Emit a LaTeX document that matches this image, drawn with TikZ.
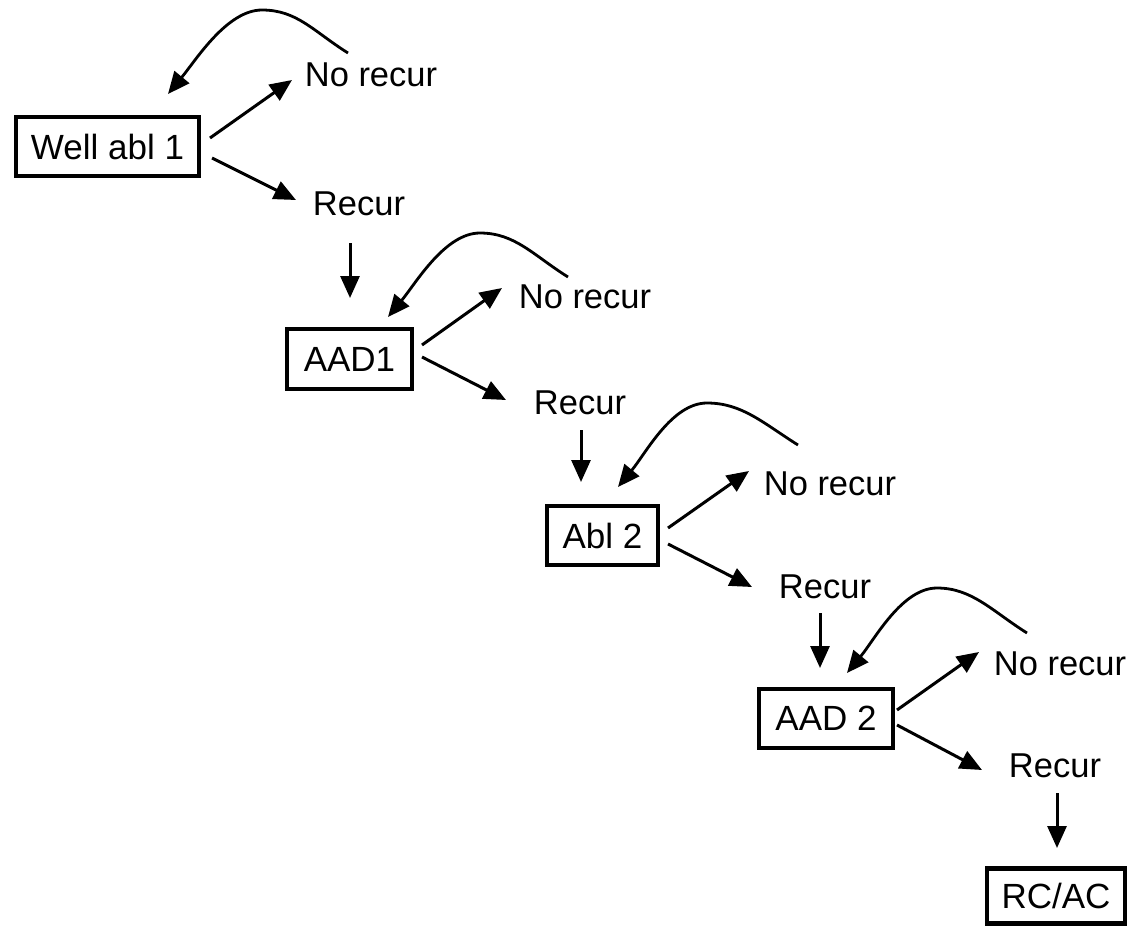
\documentclass[tikz,border=0pt]{standalone}
\usepackage{fontspec}
\setmainfont{Liberation Sans}
\usetikzlibrary{arrows.meta}
\begin{document}
\begin{tikzpicture}[x=1pt,y=-1pt,
  every node/.style={font=\fontsize{34.5}{40}\selectfont, inner sep=0pt},
  boxnode/.style={draw, line width=4.2pt, font=\fontsize{35}{40}\selectfont},
  lbl/.style={},
  arr/.style={line width=3pt, -{Triangle[length=22pt,width=19pt]}},
  curv/.style={line width=2.8pt, -{Triangle[length=22pt,width=19pt]}}]
\useasboundingbox (0,0) rectangle (1128,927);
% stage 1
\node[boxnode, minimum width=183pt, minimum height=59pt] (b1) at (107.5,146.5) {Well abl 1};
\node[lbl] (n1) at (371,75) {No recur};
\node[lbl] (r1) at (359,204) {Recur};
% stage 2
\node[boxnode, minimum width=125pt, minimum height=60pt] (b2) at (349.5,359) {AAD1};
\node[lbl] (n2) at (585,297) {No recur};
\node[lbl] (r2) at (580,403) {Recur};
% stage 3
\node[boxnode, minimum width=111pt, minimum height=59pt] (b3) at (602.5,535.5) {Abl 2};
\node[lbl] (n3) at (830,484) {No recur};
\node[lbl] (r3) at (825,587) {Recur};
% stage 4
\node[boxnode, minimum width=134pt, minimum height=59pt] (b4) at (826,718.5) {AAD 2};
\node[lbl] (n4) at (1060,664) {No recur};
\node[lbl] (r4) at (1055,766) {Recur};
% final
\node[boxnode, minimum width=138pt, minimum height=55pt] (b5) at (1056,896) {RC/AC};
% peaks of loop-back curves
\coordinate (p1) at (262,10);
\coordinate (p2) at (480,233);
\coordinate (p3) at (707,403);
\coordinate (p4) at (937,588);
% stage 1 connectors
\draw[arr] ([shift={(102.5,-8.5)}]b1.center) -- ([shift={(-79,5)}]n1.center);
\draw[arr] ([shift={(104.5,11.5)}]b1.center) -- ([shift={(-63,-4)}]r1.center);
\draw[curv] ([shift={(-23,-22)}]n1.center) .. controls +(-35,-22) and +(35,0) .. (p1)
  .. controls +(-35,0) and +(28,-34) .. ([shift={(60.5,-52.5)}]b1.center);
\draw[arr] ([shift={(-9,39)}]r1.center) -- ([shift={(0.5,-61)}]b2.center);
% stage 2 connectors
\draw[arr] ([shift={(72.5,-14)}]b2.center) -- ([shift={(-83,-9)}]n2.center);
\draw[arr] ([shift={(72.5,-2)}]b2.center) -- ([shift={(-74,-3)}]r2.center);
\draw[curv] ([shift={(-17,-20)}]n2.center) .. controls +(-35,-22) and +(35,0) .. (p2)
  .. controls +(-35,0) and +(28,-34) .. ([shift={(38.5,-42)}]b2.center);
\draw[arr] ([shift={(1,27)}]r2.center) -- ([shift={(-21.5,-53.5)}]b3.center);
% stage 3 connectors
\draw[arr] ([shift={(65.5,-7.5)}]b3.center) -- ([shift={(-81,-13)}]n3.center);
\draw[arr] ([shift={(65.5,8.5)}]b3.center) -- ([shift={(-73,0)}]r3.center);
\draw[curv] ([shift={(-32,-39)}]n3.center) .. controls +(-35,-22) and +(35,0) .. (p3)
  .. controls +(-35,0) and +(28,-34) .. ([shift={(15.5,-48.5)}]b3.center);
\draw[arr] ([shift={(-5,26)}]r3.center) -- ([shift={(-6,-50.5)}]b4.center);
% stage 4 connectors
\draw[arr] ([shift={(71,-8.5)}]b4.center) -- ([shift={(-81,-12)}]n4.center);
\draw[arr] ([shift={(71,6.5)}]b4.center) -- ([shift={(-73,4)}]r4.center);
\draw[curv] ([shift={(-33,-31)}]n4.center) .. controls +(-35,-22) and +(35,0) .. (p4)
  .. controls +(-35,0) and +(28,-34) .. ([shift={(21,-45.5)}]b4.center);
\draw[arr] ([shift={(2,27)}]r4.center) -- ([shift={(1,-48)}]b5.center);
\end{tikzpicture}
\end{document}
